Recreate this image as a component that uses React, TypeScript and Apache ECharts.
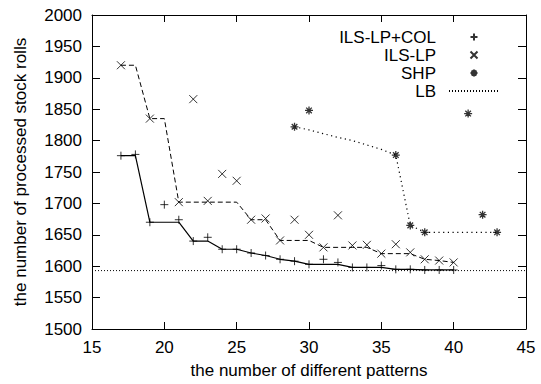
import React, { useEffect, useRef } from "react";
import * as echarts from "echarts";

// ILS-LP+COL (plus marks) and its best-so-far line
const colX = [17, 18, 19, 20, 21, 22, 23, 24, 25, 26, 27, 28, 29, 30, 31, 32, 33, 34, 35, 36, 37, 38, 39, 40];
const colY = [1776, 1778, 1670, 1698, 1674, 1640, 1646, 1627, 1627, 1621, 1617, 1611, 1608, 1603, 1611, 1606, 1598, 1598, 1601, 1595, 1595, 1594, 1594, 1594];
const colLineY = [1776, 1776, 1670, 1670, 1670, 1640, 1640, 1627, 1627, 1621, 1617, 1611, 1608, 1603, 1603, 1603, 1598, 1598, 1598, 1595, 1595, 1594, 1594, 1594];

// ILS-LP (cross marks) and its best-so-far line
const lpX = [17, 19, 21, 22, 23, 24, 25, 26, 27, 28, 29, 30, 31, 32, 33, 34, 35, 36, 37, 38, 39, 40];
const lpY = [1920, 1835, 1702, 1866, 1704, 1747, 1736, 1674, 1676, 1641, 1674, 1650, 1630, 1681, 1633, 1634, 1620, 1635, 1622, 1611, 1609, 1606];
const lpLineX = [17, 18, 19, 20, 21, 22, 23, 24, 25, 26, 27, 28, 29, 30, 31, 32, 33, 34, 35, 36, 37, 38, 39, 40];
const lpLineY = [1920, 1920, 1835, 1835, 1702, 1702, 1702, 1702, 1702, 1674, 1674, 1641, 1641, 1641, 1630, 1630, 1630, 1630, 1620, 1620, 1620, 1611, 1609, 1606];

// SHP (star marks) and its line
const shpX = [29, 30, 36, 37, 38, 41, 42, 43];
const shpY = [1822, 1848, 1777, 1665, 1654, 1843, 1682, 1654];
const shpLineX = [29, 30, 31, 32, 33, 34, 35, 36, 37, 38, 39, 40, 41, 42, 43];
const shpLineY = [1822, 1817, 1811, 1805, 1800, 1793, 1786, 1777, 1665, 1654, 1654, 1654, 1654, 1654, 1654];

// Lower bound
const lbX = [15, 45];
const lbY = [1593, 1593];

const xMin = 15, xMax = 45, xStep = 5;
const yMin = 1500, yMax = 2000, yStep = 50;

const PLUS = "path://M0,5L10,5M5,0L5,10";
const CROSS = "path://M0,0L10,10M10,0L0,10";
const STAR = "path://M0,5L10,5M5,0L5,10M1.5,1.5L8.5,8.5M8.5,1.5L1.5,8.5";

const FONT = "Liberation Sans";

const zip = (xs: number[], ys: number[]) => xs.map((x, i) => [x, ys[i]]);

export default function App() {
  const ref = useRef<HTMLDivElement>(null);
  useEffect(() => {
    document.body.style.margin = "0";
    const chart = echarts.init(ref.current!, undefined, { renderer: "svg" });
    const axisCommon = {
      type: "value" as const,
      splitLine: { show: false },
      axisLine: { show: true, lineStyle: { color: "#000", width: 1 } },
    };
    const markStyle = { color: "none", borderColor: "#000", borderWidth: 1 };
    chart.setOption({
      animation: false,
      backgroundColor: "#fff",
      grid: { left: 92, right: 15, top: 15, bottom: 55, containLabel: false },
      legend: {
        data: ["ILS-LP+COL", "ILS-LP", "SHP", "LB"],
        orient: "vertical",
        align: "right",
        right: 36,
        top: 23,
        itemWidth: 50,
        itemHeight: 7,
        itemGap: 0,
        selectedMode: false,
        textStyle: { fontFamily: FONT, fontSize: 17, color: "#000", lineHeight: 18, padding: [0, 8, 0, 0] },
      },
      xAxis: [
        {
          ...axisCommon,
          min: xMin,
          max: xMax,
          interval: xStep,
          position: "bottom",
          axisTick: { show: true, inside: true, length: 7, lineStyle: { color: "#000" } },
          axisLabel: { fontFamily: FONT, fontSize: 17, color: "#000", margin: 10 },
          name: "the number of different patterns",
          nameLocation: "middle",
          nameGap: 33,
          nameTextStyle: { fontFamily: FONT, fontSize: 17, color: "#000" },
        },
        {
          ...axisCommon,
          min: xMin,
          max: xMax,
          interval: xStep,
          position: "top",
          axisTick: { show: true, inside: true, length: 7, lineStyle: { color: "#000" } },
          axisLabel: { show: false },
        },
      ],
      yAxis: [
        {
          ...axisCommon,
          min: yMin,
          max: yMax,
          interval: yStep,
          position: "left",
          axisTick: { show: true, inside: true, length: 8, lineStyle: { color: "#000" } },
          axisLabel: {
            fontFamily: FONT,
            fontSize: 17,
            color: "#000",
            margin: 10,
            formatter: (v: number) => String(v),
          },
          name: "the number of processed stock rolls",
          nameLocation: "middle",
          nameGap: 63,
          nameTextStyle: { fontFamily: FONT, fontSize: 17, color: "#000" },
        },
        {
          ...axisCommon,
          min: yMin,
          max: yMax,
          interval: yStep,
          position: "right",
          axisTick: { show: true, inside: true, length: 8, lineStyle: { color: "#000" } },
          axisLabel: { show: false },
        },
      ],
      series: [
        {
          name: "LB",
          type: "line",
          data: zip(lbX, lbY),
          symbol: "none",
          silent: true,
          lineStyle: { color: "#000", width: 1, type: [1, 2] },
          itemStyle: { color: "transparent", opacity: 0 },
        },
        {
          name: "ILS-LP+COL line",
          type: "line",
          data: zip(colX, colLineY),
          symbol: "none",
          silent: true,
          lineStyle: { color: "#000", width: 1.2, type: "solid" },
        },
        {
          name: "ILS-LP line",
          type: "line",
          data: zip(lpLineX, lpLineY),
          symbol: "none",
          silent: true,
          lineStyle: { color: "#000", width: 1, type: [5, 3] },
        },
        {
          name: "SHP line",
          type: "line",
          data: zip(shpLineX, shpLineY),
          symbol: "none",
          silent: true,
          lineStyle: { color: "#000", width: 1.2, type: [1.2, 3.5] },
        },
        {
          name: "ILS-LP+COL",
          type: "scatter",
          data: zip(colX, colY),
          symbol: PLUS,
          symbolSize: 8,
          silent: true,
          itemStyle: markStyle,
        },
        {
          name: "ILS-LP",
          type: "scatter",
          data: zip(lpX, lpY),
          symbol: CROSS,
          symbolSize: 8,
          silent: true,
          itemStyle: markStyle,
        },
        {
          name: "SHP",
          type: "scatter",
          data: zip(shpX, shpY),
          symbol: STAR,
          symbolSize: 8,
          silent: true,
          itemStyle: { ...markStyle, borderWidth: 1.3 },
        },
      ],
    });
    return () => chart.dispose();
  }, []);
  return <div ref={ref} style={{ position: "fixed", left: 0, top: 0, width: 541, height: 384, background: "#fff" }} />;
}
